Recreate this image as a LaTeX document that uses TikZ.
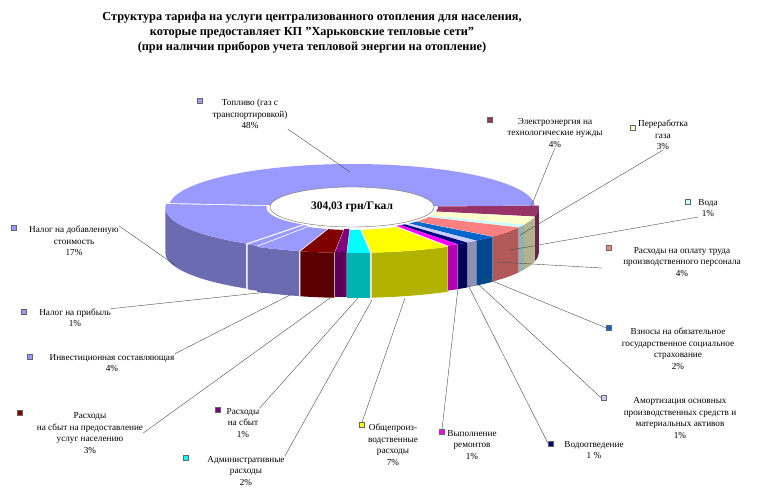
\documentclass[tikz,border=0pt]{standalone}
\usepackage{fontspec}
\setmainfont{Liberation Serif}
\usetikzlibrary{shapes.geometric}
\newcommand\lblfont{\fontsize{9.2}{11.5}\selectfont}
\tikzset{
  swatch/.style={draw=black!60,line width=0.3pt,minimum size=5pt,inner sep=0pt,fill=#1},
  lbl/.style={font=\lblfont,align=center,inner sep=0pt},
  lead/.style={draw=black!70,line width=0.4pt}
}
\definecolor{cfuel}{HTML}{9999FF}
\definecolor{celec}{HTML}{993366}
\definecolor{cgas}{HTML}{FFFFCC}
\definecolor{cwater}{HTML}{CCFFFF}
\definecolor{clabor}{HTML}{FF8080}
\definecolor{ccontr}{HTML}{0066CC}
\definecolor{camort}{HTML}{CCCCFF}
\definecolor{cdrain}{HTML}{000080}
\definecolor{crepair}{HTML}{FF00FF}
\definecolor{cgen}{HTML}{FFFF00}
\definecolor{cadmin}{HTML}{00FFFF}
\definecolor{csales}{HTML}{800080}
\definecolor{cspop}{HTML}{800000}
\definecolor{cinv}{HTML}{9999FF}
\definecolor{cprof}{HTML}{9999FF}
\definecolor{cvat}{HTML}{9999FF}
\begin{document}
\begin{tikzpicture}[x=1pt,y=1pt]
  \useasboundingbox (0,0) rectangle (762,490);
  \fill[white] (0,0) rectangle (762,490);

  % title
  \node[font=\bfseries\fontsize{12.3}{15}\selectfont,align=center] (title) at (312,457)
    {Структура тарифа на услуги централизованного отопления для населения,\\
     которые предоставляет КП "Харьковские тепловые сети"\\
     (при наличии приборов учета тепловой энергии на отопление)};

  % pie: walls first, then tops
  \begin{scope}[shift={(352,283)}]
    \foreach \a/\b/\c/\ex in {174.8/2/cfuel/0, 2/-12.4/celec/4, -12.4/-23.2/cgas/4,
        -23.2/-26.8/cwater/4, -26.8/-41.2/clabor/4, -41.2/-48.4/ccontr/4,
        -48.4/-52/camort/4, -52/-55.6/cdrain/4, -55.6/-59.2/crepair/4,
        -59.2/-84.4/cgen/6, -84.4/-91.6/cadmin/6, -91.6/-95.2/csales/4,
        -95.2/-106/cspop/6, -106/-120.4/cinv/6, -120.4/-124/cprof/4,
        -124/-185.2/cvat/4}{
      \pgfmathsetmacro\m{(\a+\b)/2}
      \pgfmathsetmacro\wa{min(\a,0)}
      \pgfmathsetmacro\wb{max(\b,-180)}
      \pgfmathparse{(\wa>\wb)?1:0}
      \ifnum\pgfmathresult=1
        \fill[\c!70!black,shift={({\ex*cos(\m)},{0.5*\ex*sin(\m)})}]
          (\wa:183 and 43) arc[start angle=\wa,end angle=\wb,x radius=183pt,y radius=43pt]
          -- ++(0,-45) arc[start angle=\wb,end angle=\wa,x radius=183pt,y radius=43pt] -- cycle;
      \fi
    }
    \foreach \a/\b/\c/\ex in {174.8/2/cfuel/0, 2/-12.4/celec/4, -12.4/-23.2/cgas/4,
        -23.2/-26.8/cwater/4, -26.8/-41.2/clabor/4, -41.2/-48.4/ccontr/4,
        -48.4/-52/camort/4, -52/-55.6/cdrain/4, -55.6/-59.2/crepair/4,
        -59.2/-84.4/cgen/6, -84.4/-91.6/cadmin/6, -91.6/-95.2/csales/4,
        -95.2/-106/cspop/6, -106/-120.4/cinv/6, -120.4/-124/cprof/4,
        -124/-185.2/cvat/4}{
      \pgfmathsetmacro\m{(\a+\b)/2}
      \fill[\c,shift={({\ex*cos(\m)},{0.5*\ex*sin(\m)})}]
        (\a:183 and 43) arc[start angle=\a,end angle=\b,x radius=183pt,y radius=43pt]
        -- (\b:82 and 20) arc[start angle=\b,end angle=\a,x radius=82pt,y radius=20pt] -- cycle;
    }
    \node[ellipse,draw=black!60,fill=white,minimum width=164pt,minimum height=40pt,
      font=\bfseries\fontsize{11.5}{13}\selectfont] (total) at (0,0) {304,03 грн/Гкал};
  \end{scope}

  % points on the pie
  \coordinate (pfuel) at (350,318);
  \coordinate (pelec) at (528,276);
  \coordinate (pgas) at (520,255);
  \coordinate (pwater) at (510,240);
  \coordinate (plabor) at (497,228);
  \coordinate (llabor) at (602,222);
  \coordinate (pcontr) at (485,212);
  \coordinate (pamort) at (477,207);
  \coordinate (pdrain) at (468,205);
  \coordinate (prepair) at (458,202);
  \coordinate (pgen) at (405,192);
  \coordinate (padmin) at (372,190);
  \coordinate (psales) at (358,192);
  \coordinate (pspop) at (330,192);
  \coordinate (pinv) at (292,196);
  \coordinate (pprof) at (268,198);
  \coordinate (pvat) at (175,225);

  % labels
  \node[swatch=cfuel] (mfuel) at (200,389) {};
  \node[lbl] (tfuel) at (250,376) {Топливо (газ с\\транспортировкой)\\48\%};
  \node[swatch=celec] (melec) at (490,370) {};
  \node[lbl] (telec) at (555,357) {Электроэнергия на\\технологические нужды\\4\%};
  \node[swatch=cgas] (mgas) at (633,362) {};
  \node[lbl] (tgas) at (663,355) {Переработка\\газа\\3\%};
  \node[swatch=cwater] (mwater) at (688,288) {};
  \node[lbl] (twater) at (708,282) {Вода\\1\%};
  \node[swatch=clabor] (mlabor) at (609,242) {};
  \node[lbl] (tlabor) at (682,228) {Расходы на оплату труда\\производственного персонала\\4\%};
  \node[swatch=ccontr] (mcontr) at (609,162) {};
  \node[lbl] (tcontr) at (678,141) {Взносы на обязательное\\государственное социальное\\страхование\\2\%};
  \node[swatch=camort] (mamort) at (604,92) {};
  \node[lbl] (tamort) at (680,72) {Амортизация основных\\производственных средств и\\материальных активов\\1\%};
  \node[swatch=cdrain] (mdrain) at (551,46) {};
  \node[lbl] (tdrain) at (594,40) {Водоотведение\\1 \%};
  \node[swatch=crepair] (mrepair) at (442,58) {};
  \node[lbl] (trepair) at (472,45) {Выполнение\\ремонтов\\1\%};
  \node[swatch=cgen] (mgen) at (362,65) {};
  \node[lbl] (tgen) at (393,45) {Общепроиз-\\водственные\\расходы\\7\%};
  \node[swatch=cadmin] (madmin) at (186,32) {};
  \node[lbl] (tadmin) at (246,19) {Административные\\расходы\\2\%};
  \node[swatch=csales] (msales) at (218,80) {};
  \node[lbl] (tsales) at (243,67) {Расходы\\на сбыт\\1\%};
  \node[swatch=cspop] (mspop) at (20,77) {};
  \node[lbl] (tspop) at (90,57) {Расходы\\на сбыт на предоставление\\услуг населению\\3\%};
  \node[swatch=cinv] (minv) at (30,133) {};
  \node[lbl] (tinv) at (112,127) {Инвестиционная составляющая\\4\%};
  \node[swatch=cprof] (mprof) at (24,178) {};
  \node[lbl] (tprof) at (75,172) {Налог на прибыль\\1\%};
  \node[swatch=cvat] (mvat) at (14,262) {};
  \node[lbl] (tvat) at (74,249) {Налог на добавленную\\стоимость\\17\%};

  % leaders
  \draw[lead] (tfuel.south east) -- (pfuel);
  \draw[lead] (telec.south) -- (pelec);
  \draw[lead] (tgas.south) -- (pgas);
  \draw[lead] (twater.south west) -- (pwater);
  \draw[lead] (llabor) -- (plabor);
  \draw[lead] (mcontr.west) -- (pcontr);
  \draw[lead] (mamort.west) -- (pamort);
  \draw[lead] (mdrain.west) -- (pdrain);
  \draw[lead] (mrepair.north) -- (prepair);
  \draw[lead] (mgen.north) -- (pgen);
  \draw[lead] (tadmin.north east) -- (padmin);
  \draw[lead] (tsales.north east) -- (psales);
  \draw[lead] (tspop.east) -- (pspop);
  \draw[lead] (tinv.north east) -- (pinv);
  \draw[lead] (tprof.north east) -- (pprof);
  \draw[lead] (tvat.north east) -- (pvat);
\end{tikzpicture}
\end{document}
